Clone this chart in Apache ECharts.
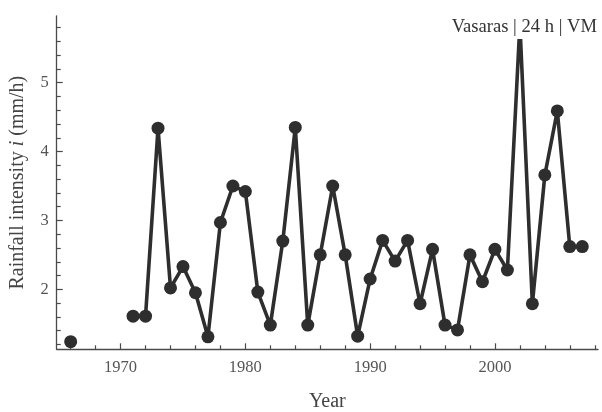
<!DOCTYPE html>
<html>
<head>
<meta charset="utf-8">
<script src="https://cdn.jsdelivr.net/npm/echarts@6/dist/echarts.min.js"></script>
<style>
  html, body { margin: 0; padding: 0; background: #fff; }
  #chart { width: 602px; height: 412px; }
</style>
</head>
<body>
<div id="chart"></div>
<script>
// Annual maximum 24 h rainfall intensity, summer season (Vasaras), station VM
const years = [1966, 1967, 1968, 1969, 1970, 1971, 1972, 1973, 1974, 1975, 1976, 1977, 1978, 1979,
  1980, 1981, 1982, 1983, 1984, 1985, 1986, 1987, 1988, 1989, 1990, 1991, 1992, 1993,
  1994, 1995, 1996, 1997, 1998, 1999, 2000, 2001, 2002, 2003, 2004, 2005, 2006, 2007];
const intensity = [1.24, null, null, null, null, 1.61, 1.61, 4.34, 2.02, 2.33, 1.95, 1.31, 2.97, 3.50,
  3.42, 1.96, 1.48, 2.70, 4.35, 1.48, 2.50, 3.50, 2.50, 1.32, 2.15, 2.71, 2.41, 2.71,
  1.79, 2.58, 1.48, 1.41, 2.50, 2.11, 2.58, 2.28, 5.85, 1.79, 3.66, 4.59, 2.62, 2.62];

const xMajorTicks = [1970, 1980, 1990, 2000];
const yMajorTicks = [2, 3, 4, 5];

const xRange = [1964.88, 2008.26];
const yRange = [1.129, 5.968];

// minor ticks: every 2 years on x, every 0.2 on y
const xMinorTicks = [];
for (let y = 1966; y <= 2008; y += 2) if (y % 10 !== 0) xMinorTicks.push(y);
const yMinorTicks = [];
for (let k = 6; k <= 29; k++) if (k % 5 !== 0) yMinorTicks.push(+(k * 0.2).toFixed(1));

const serif = '"Liberation Serif", "DejaVu Serif", serif';
const axisColor = '#4a4a4a';
const labelColor = '#555';

const chart = echarts.init(document.getElementById('chart'), null, { renderer: 'canvas' });

chart.setOption({
  animation: false,
  backgroundColor: '#fff',
  title: {
    text: 'Vasaras | 24 h | VM',
    right: 3,
    top: 15,
    padding: [2, 2, 2, 2],
    backgroundColor: '#fff',
    textStyle: { fontFamily: serif, fontSize: 18.6, fontWeight: 'normal', color: '#333', lineHeight: 20 }
  },
  grid: { left: 56.7, right: 4, top: 16, bottom: 62.7, containLabel: false, outerBoundsMode: 'none' },
  xAxis: [
    {
      type: 'value',
      min: xRange[0], max: xRange[1],
      name: 'Year',
      nameLocation: 'middle',
      nameGap: 42,
      nameTextStyle: { fontFamily: serif, fontSize: 20, color: '#444' },
      splitLine: { show: false },
      axisLine: { lineStyle: { color: axisColor, width: 1.3 } },
      axisTick: { inside: true, length: 6, customValues: xMajorTicks, lineStyle: { color: axisColor, width: 1.2 } },
      axisLabel: {
        customValues: xMajorTicks, margin: 10, fontFamily: serif, fontSize: 16.5, color: labelColor,
        formatter: v => String(v)
      }
    },
    {
      type: 'value',
      position: 'bottom',
      min: xRange[0], max: xRange[1],
      splitLine: { show: false },
      axisLine: { show: false },
      axisTick: { inside: true, length: 4, customValues: xMinorTicks, lineStyle: { color: axisColor, width: 1.2 } },
      axisLabel: { show: false }
    }
  ],
  yAxis: [
    {
      type: 'value',
      min: yRange[0], max: yRange[1],
      name: 'Rainfall intensity {it|i} (mm/h)',
      nameLocation: 'middle',
      nameGap: 29,
      nameTextStyle: {
        fontFamily: serif, fontSize: 20, color: '#444',
        rich: { it: { fontFamily: serif, fontSize: 20, fontStyle: 'italic', color: '#444' } }
      },
      splitLine: { show: false },
      axisLine: { lineStyle: { color: axisColor, width: 1.3 } },
      axisTick: { inside: true, length: 6, customValues: yMajorTicks, lineStyle: { color: axisColor, width: 1.2 } },
      axisLabel: { customValues: yMajorTicks, margin: 8, fontFamily: serif, fontSize: 16.5, color: labelColor }
    },
    {
      type: 'value',
      position: 'left',
      min: yRange[0], max: yRange[1],
      splitLine: { show: false },
      axisLine: { show: false },
      axisTick: { inside: true, length: 4, customValues: yMinorTicks, lineStyle: { color: axisColor, width: 1.2 } },
      axisLabel: { show: false }
    }
  ],
  series: [
    {
      type: 'line',
      xAxisIndex: 0,
      yAxisIndex: 0,
      data: years.map((yr, i) => [yr, intensity[i]]),
      connectNulls: false,
      symbol: 'circle',
      symbolSize: 13,
      showAllSymbol: true,
      lineStyle: { color: '#2e2e2e', width: 3.6 },
      itemStyle: { color: '#2e2e2e' },
      z: 2
    }
  ]
});
</script>
</body>
</html>
